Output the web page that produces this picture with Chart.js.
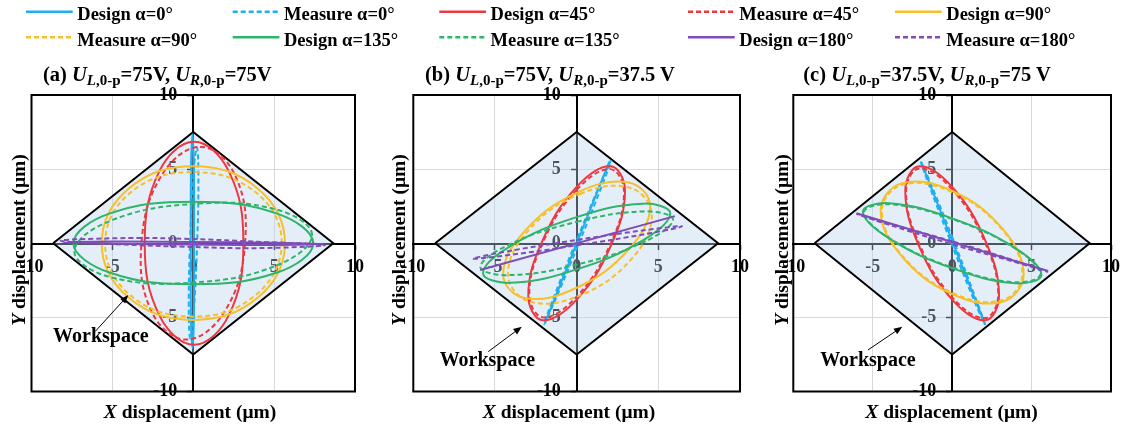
<!DOCTYPE html>
<html>
<head>
<meta charset="utf-8">
<title>Stage trajectories for different phase differences</title>
<script src="https://cdn.jsdelivr.net/npm/chart.js@4.4.1/dist/chart.umd.min.js"></script>
<style>
  html, body { margin: 0; padding: 0; background: #fff; }
  #figure { position: relative; width: 1128px; height: 430px; overflow: hidden; background: #fff; }
  #figure canvas { position: absolute; top: 0; }
  #overlay { position: absolute; left: 0; top: 0; pointer-events: none; }
  #overlay text { font-family: 'Liberation Serif', 'Times New Roman', serif; font-weight: bold; fill: #000; white-space: pre; }
</style>
</head>
<body>
<div id="figure">
  <canvas id="panelA" width="376" height="430" style="left:0px;width:376px;height:430px"></canvas>
  <canvas id="panelB" width="390" height="430" style="left:376px;width:390px;height:430px"></canvas>
  <canvas id="panelC" width="362" height="430" style="left:766px;width:362px;height:430px"></canvas>
  <svg id="overlay" width="1128" height="430" xmlns="http://www.w3.org/2000/svg"></svg>
</div>
<script>
// ---- values ---------------------------------------------------------------
const ANGLES = [0, 45, 90, 135, 180];
const TICK_VALUES = [-10, -5, 0, 5, 10];
const WORKSPACE = [[-8.66, 0], [0, 7.5], [8.66, 0], [0, -7.5], [-8.66, 0]];
const PANEL_TAGS = ['(a)', '(b)', '(c)'];
const U_LEFT = ['75V', '75V', '37.5V'];
const U_RIGHT = ['75V', '37.5 V', '75 V'];

// (a) U_L = 75 V, U_R = 75 V — one [x, y] list per phase angle (µm)
const A_DESIGN = [
  [[-0.05, 7.35], [0.04, 5], [0.05, 0], [0.04, -5], [-0.05, -7.05], [-0.14, -5], [-0.15, 0], [-0.14, 5]],
  [[3.1, 0], [2.2, 4.85], [0.05, 6.85], [-2.1, 4.85], [-3.0, 0], [-2.1, -4.85], [0.05, -6.85], [2.2, -4.85]],
  [[5.67, 0], [4.0, 3.68], [0, 5.2], [-4.0, 3.68], [-5.66, 0], [-4.0, -3.66], [0, -5.17], [4.0, -3.66]],
  [[7.42, 0], [5.23, 1.98], [0, 2.8], [-5.23, 1.98], [-7.41, 0], [-5.23, -1.96], [0, -2.76], [5.23, -1.96]],
  [[-8.0, 0.05], [-5, 0.11], [0, 0.08], [5, 0.03], [8.0, -0.05], [5, -0.11], [0, -0.08], [-5, -0.03]]
];
const A_MEASURE = [
  [[0.02, 4.82], [0.23, 6.47], [0.32, 4.34], [0.23, -0.31], [0.02, -4.76], [-0.19, -6.41], [-0.28, -4.28], [-0.19, 0.37]],
  [[3.2, 0], [2.58, 4.6], [0.45, 6.5], [-1.94, 4.6], [-3.2, 0], [-2.58, -4.6], [-0.45, -6.5], [1.94, -4.6]],
  [[5.47, 0], [3.9, 3.4], [0, 4.8], [-3.85, 3.45], [-5.45, 0], [-3.9, -3.5], [0, -4.95], [3.85, -3.5]],
  [[7.35, 0.55], [5.2, 2.26], [0, 2.65], [-5.2, 1.48], [-7.35, -0.55], [-5.2, -2.26], [0, -2.65], [5.2, -1.48]],
  [[8.15, -0.12], [4, 0.1], [0, 0.28], [-4, 0.35], [-8.2, 0.17], [-4, -0.1], [0, -0.25], [4, -0.33]]
];

// (b) U_L = 75 V, U_R = 37.5 V
const B_DESIGN = [
  [[-1.95, -5.4], [2.0, 5.5]],
  [[0, 3.8], [2.09, 5.19], [2.96, 3.55], [2.09, -0.18], [0, -3.8], [-2.09, -5.19], [-2.96, -3.55], [-2.09, 0.18]],
  [[0, 3.4], [3.18, 4.1], [4.5, 2.52], [3.18, -0.42], [0, -3.0], [-3.18, -3.7], [-4.5, -2.12], [-3.18, 0.82]],
  [[0, 1.76], [4.05, 2.67], [5.73, 2.02], [4.05, 0.19], [0, -1.76], [-4.05, -2.67], [-5.73, -2.02], [-4.05, -0.19]],
  [[-5.91, -1.8], [6.01, 1.83]]
];
const B_MEASURE = [
  [[0.05, 0.34], [1.5, 4.15], [2.1, 5.56], [1.5, 3.74], [0.05, -0.24], [-1.4, -4.05], [-2.0, -5.46], [-1.4, -3.64]],
  [[0, 3.6], [2.05, 5.0], [2.9, 3.48], [2.05, -0.09], [0, -3.6], [-2.05, -5.0], [-2.9, -3.48], [-2.05, 0.09]],
  [[0.2, 3.32], [3.31, 3.72], [4.6, 1.88], [3.31, -1.12], [0.2, -3.52], [-2.91, -3.92], [-4.2, -2.08], [-2.91, 0.92]],
  [[0, 1.44], [4.17, 2.15], [5.9, 1.6], [4.17, 0.11], [0, -1.44], [-4.17, -2.15], [-5.9, -1.6], [-4.17, -0.11]],
  [[0.05, 0.23], [4.57, 0.94], [6.45, 1.14], [4.57, 0.69], [0.05, -0.13], [-4.47, -0.84], [-6.35, -1.04], [-4.47, -0.59]]
];

// (c) U_L = 37.5 V, U_R = 75 V
const C_DESIGN = [
  [[-1.96, 5.5], [2.08, -5.5]],
  [[0, 3.8], [-2.09, 5.19], [-2.95, 3.55], [-2.09, -0.18], [0, -3.8], [2.09, -5.19], [2.95, -3.55], [2.09, 0.18]],
  [[0, 3.53], [-3.18, 4.04], [-4.5, 2.22], [-3.18, -0.87], [0, -3.43], [3.18, -3.94], [4.5, -2.12], [3.18, 0.97]],
  [[0, 1.68], [-3.97, 2.7], [-5.62, 2.14], [-3.97, 0.33], [0, -1.68], [3.97, -2.7], [5.62, -2.14], [3.97, -0.33]],
  [[-6.02, 2.02], [6.04, -1.87]]
];
const C_MEASURE = [
  [[0.05, 0.29], [-1.36, 4.05], [-1.95, 5.44], [-1.36, 3.65], [0.05, -0.29], [1.46, -4.05], [2.05, -5.44], [1.46, -3.65]],
  [[0, 3.63], [-2.05, 5.05], [-2.9, 3.51], [-2.05, -0.09], [0, -3.63], [2.05, -5.05], [2.9, -3.51], [2.05, 0.09]],
  [[0, 3.44], [-3.13, 3.95], [-4.42, 2.17], [-3.13, -0.85], [0, -3.34], [3.13, -3.85], [4.42, -2.07], [3.13, 0.95]],
  [[0, 1.63], [-3.92, 2.63], [-5.55, 2.09], [-3.92, 0.32], [0, -1.63], [3.92, -2.63], [5.55, -2.09], [3.92, -0.32]],
  [[0, 0.13], [-4.24, 1.41], [-6.0, 1.98], [-4.24, 1.34], [0, -0.07], [4.24, -1.35], [6.0, -1.92], [4.24, -1.28]]
];

// ---- styling ----------------------------------------------------------------
const COLORS = ['#1FAEEF', '#EC3840', '#F7BF2A', '#2FB46C', '#7F4DB7'];
const SERIF = "'Liberation Serif', 'Times New Roman', serif";
const WORKSPACE_FILL = 'rgba(188, 212, 238, 0.4)';
Chart.defaults.font.family = SERIF;

// Elliptical trajectories are closed curves: join the last point smoothly back to the first.
const closedCurves = {
  id: 'closedCurves',
  afterDatasetUpdate(chart, args) {
    const ds = chart.data.datasets[args.index];
    const line = args.meta.dataset;
    if (ds.closed && line) {
      line._loop = true;
      line._fullLoop = true;
      delete line._segments;
      delete line._path;
      line._pointsUpdated = false;
    }
  }
};

// Outer frame of the plotting area.
const frame = {
  id: 'frame',
  beforeDatasetsDraw(chart) {
    const { ctx, chartArea: a } = chart;
    ctx.save();
    ctx.strokeStyle = '#000';
    ctx.lineWidth = 2;
    ctx.strokeRect(a.left, a.top, a.right - a.left, a.bottom - a.top);
    ctx.restore();
  }
};

// "Workspace" callout with an arrow pointing at the diamond.
const workspaceNote = {
  id: 'workspaceNote',
  afterDatasetsDraw(chart, args, opts) {
    if (!opts || !opts.label) return;
    const { ctx, scales: { x, y } } = chart;
    const px = p => [x.getPixelForValue(p[0]), y.getPixelForValue(p[1])];
    const [tx, ty] = px(opts.label);
    const [ax, ay] = px(opts.from);
    const [bx, by] = px(opts.to);
    const ang = Math.atan2(by - ay, bx - ax);
    const head = 9, spread = 0.38;
    ctx.save();
    ctx.strokeStyle = '#000';
    ctx.fillStyle = '#000';
    ctx.lineWidth = 1;
    ctx.beginPath();
    ctx.moveTo(ax, ay);
    ctx.lineTo(bx - head * 0.7 * Math.cos(ang), by - head * 0.7 * Math.sin(ang));
    ctx.stroke();
    ctx.beginPath();
    ctx.moveTo(bx, by);
    ctx.lineTo(bx - head * Math.cos(ang - spread), by - head * Math.sin(ang - spread));
    ctx.lineTo(bx - head * Math.cos(ang + spread), by - head * Math.sin(ang + spread));
    ctx.closePath();
    ctx.fill();
    ctx.font = `bold 20px ${SERIF}`;
    ctx.textAlign = 'center';
    ctx.textBaseline = 'alphabetic';
    ctx.fillText(opts.text, tx, ty);
    ctx.restore();
  }
};

function axisOptions(labelPadding) {
  return {
    type: 'linear',
    position: 'center',
    min: -10,
    max: 10,
    afterBuildTicks: scale => { scale.ticks = TICK_VALUES.map(v => ({ value: v })); },
    ticks: {
      font: { family: SERIF, size: 18, weight: 'bold' },
      color: '#000',
      padding: labelPadding,
      autoSkip: false,
      maxRotation: 0
    },
    grid: {
      color: c => (c.tick && Math.abs(c.tick.value) === 5 ? '#D9D9D9' : 'rgba(0,0,0,0)'),
      lineWidth: 1,
      drawTicks: true,
      tickLength: 5,
      tickColor: '#000',
      tickWidth: 1.5
    },
    border: { color: '#000', width: 2 }
  };
}

function buildPanel(canvasId, design, measure, pad, note) {
  const datasets = [];
  ANGLES.forEach((angle, k) => {
    [['Design', design[k], []], ['Measure', measure[k], [5, 3]]].forEach(([kind, pts, dash]) => {
      const closed = pts.length > 2;
      datasets.push({
        label: `${kind} α=${angle}°`,
        data: pts.map(([x, y]) => ({ x, y })),
        showLine: true,
        closed,
        borderColor: COLORS[k],
        backgroundColor: COLORS[k],
        borderWidth: 2,
        borderDash: dash,
        pointRadius: 0,
        tension: closed ? 0.4 : 0,
        fill: false,
        order: 20 - datasets.length
      });
    });
  });
  datasets.push({
    label: 'Workspace',
    data: WORKSPACE.map(([x, y]) => ({ x, y })),
    showLine: true,
    fill: 'shape',
    backgroundColor: WORKSPACE_FILL,
    borderColor: '#000',
    borderWidth: 2,
    borderJoinStyle: 'miter',
    pointRadius: 0,
    tension: 0,
    order: 100
  });

  return new Chart(document.getElementById(canvasId), {
    type: 'scatter',
    data: { datasets },
    options: {
      responsive: false,
      animation: false,
      devicePixelRatio: 1,
      events: [],
      layout: { padding: pad },
      scales: { x: axisOptions(8), y: axisOptions(11) },
      plugins: {
        legend: { display: false },
        tooltip: { enabled: false },
        title: { display: false },
        workspaceNote: note
      }
    },
    plugins: [closedCurves, frame, workspaceNote]
  });
}

buildPanel('panelA', A_DESIGN, A_MEASURE,
  { left: 31.5, right: 21, top: 95, bottom: 38.5 },
  { text: 'Workspace', label: [-5.71, -6.64], from: [-6.07, -5.96], to: [-4.01, -3.49] });
buildPanel('panelB', B_DESIGN, B_MEASURE,
  { left: 37.3, right: 26, top: 95, bottom: 38.5 },
  { text: 'Workspace', label: [-5.46, -8.28], from: [-5.41, -7.31], to: [-3.36, -5.63] });
buildPanel('panelC', C_DESIGN, C_MEASURE,
  { left: 27.3, right: 11.3, top: 95, bottom: 38.5 },
  { text: 'Workspace', label: [-5.3, -8.28], from: [-5.3, -7.2], to: [-3.14, -5.63] });

// ---- legend, panel titles and axis titles ------------------------------------
const svgNS = 'http://www.w3.org/2000/svg';
const overlay = document.getElementById('overlay');
function svgEl(tag, attrs, parent = overlay) {
  const el = document.createElementNS(svgNS, tag);
  for (const k in attrs) el.setAttribute(k, attrs[k]);
  parent.appendChild(el);
  return el;
}
function tspan(parent, text, attrs = {}) {
  const t = svgEl('tspan', attrs, parent);
  t.textContent = text;
  return t;
}

const LEGEND_X = [26, 232.7, 439.3, 688, 895];
const LEGEND_BASELINE = [20, 45.6];
let slot = 0;
ANGLES.forEach((angle, k) => {
  ['Design', 'Measure'].forEach((kind, j) => {
    const row = Math.floor(slot / 5), col = slot % 5;
    slot++;
    const x0 = LEGEND_X[col], base = LEGEND_BASELINE[row];
    svgEl('line', {
      x1: x0, x2: x0 + 46.7, y1: base - 8.3, y2: base - 8.3,
      stroke: COLORS[k], 'stroke-width': 2.5,
      'stroke-dasharray': j ? '5 3' : 'none'
    });
    const t = svgEl('text', { x: x0 + 51.3, y: base, 'font-size': 18.5 });
    t.textContent = `${kind} α=${angle}°`;
  });
});

const TITLE_X = [43, 425, 803.3];
const XTITLE_X = [190, 569, 951.5];
const YTITLE_X = [25, 405, 787.5];
PANEL_TAGS.forEach((tag, i) => {
  const t = svgEl('text', { x: TITLE_X[i], y: 81, 'font-size': 20.5 });
  tspan(t, tag + ' ');
  tspan(t, 'U', { 'font-style': 'italic' });
  tspan(t, 'L', { 'font-style': 'italic', 'font-size': 15, dy: 4 });
  tspan(t, ',0-p', { 'font-size': 15 });
  tspan(t, '=' + U_LEFT[i] + ', ', { dy: -4 });
  tspan(t, 'U', { 'font-style': 'italic' });
  tspan(t, 'R', { 'font-style': 'italic', 'font-size': 15, dy: 4 });
  tspan(t, ',0-p', { 'font-size': 15 });
  tspan(t, '=' + U_RIGHT[i], { dy: -4 });

  const xt = svgEl('text', { x: XTITLE_X[i], y: 418, 'font-size': 19.5, 'text-anchor': 'middle' });
  tspan(xt, 'X', { 'font-style': 'italic' });
  tspan(xt, ' displacement (μm)');

  const yt = svgEl('text', {
    transform: `translate(${YTITLE_X[i]},240) rotate(-90)`,
    'font-size': 19.5, 'text-anchor': 'middle'
  });
  tspan(yt, 'Y', { 'font-style': 'italic' });
  tspan(yt, ' displacement (μm)');
});
</script>
</body>
</html>
